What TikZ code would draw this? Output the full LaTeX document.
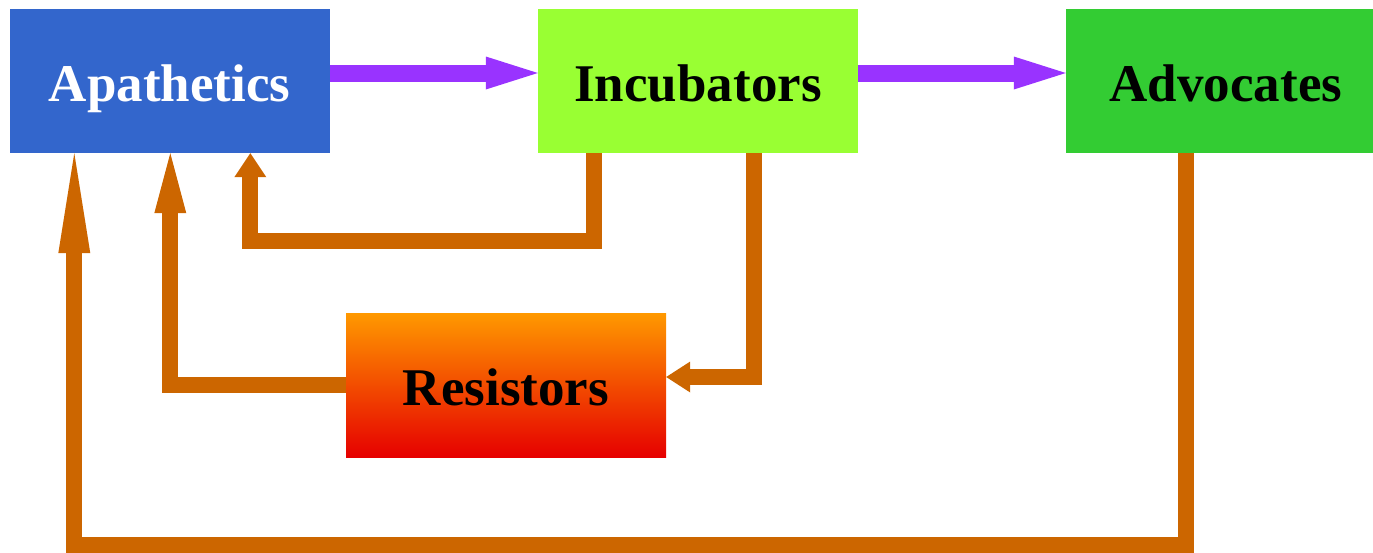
\documentclass[tikz,border=0pt]{standalone}
\usepackage{fontspec}
\setmainfont{Liberation Serif}
\usetikzlibrary{arrows.meta}

\definecolor{apblue}{HTML}{3366CC}
\definecolor{inclime}{HTML}{99FF33}
\definecolor{advgreen}{HTML}{33CC33}
\definecolor{resorange}{HTML}{FF9900}
\definecolor{resred}{HTML}{E60000}
\definecolor{flowpurple}{HTML}{9933FF}
\definecolor{backbrown}{HTML}{CC6600}

\tikzset{
  stage/.style={rectangle, minimum width=320pt, minimum height=144pt, inner sep=0pt,
    text height=40pt, text depth=0pt, font=\fontsize{53}{60}\selectfont\bfseries},
  forward/.style={draw=flowpurple, line width=17pt,
    -{Triangle[length=52pt, width=33pt, line width=0pt]}},
  back/.style={draw=backbrown, line width=16pt, line join=miter},
}

\begin{document}
\begin{tikzpicture}[x=1pt, y=-1pt]
  \clip (0,0) rectangle (1373,552);
  \node[stage, fill=apblue, text=white] (apathetics) at (169.5,81) {Apathetics};
  \node[stage, fill=inclime] (incubators) at (698,81) {Incubators};
  \node[stage, fill=advgreen] (advocates) at (1226,81) {Advocates};
  \node[stage, top color=resorange, bottom color=resred] (resistors) at (506,385) {Resistors};

  \draw[forward] ([yshift=8pt]apathetics.east) -- ([yshift=8pt]incubators.west);
  \draw[forward] ([yshift=8pt]incubators.east) -- ([yshift=8pt]advocates.west);

  \draw[back, -{Triangle[length=24pt, width=32pt, line width=0pt]}] ([xshift=56pt]incubators.south west)
    -- ++(0,88) -| ([xshift=241pt]apathetics.south west);
  \draw[back, -{Triangle[length=24pt, width=31pt, line width=0pt]}] ([xshift=216pt]incubators.south west)
    |- ([yshift=8pt]resistors.east);
  \draw[back, -{Triangle[length=60pt, width=32pt, line width=0pt]}] (resistors.west)
    -| ([xshift=161pt]apathetics.south west);
  \draw[back, -{Triangle[length=100pt, width=32pt, line width=0pt]}] ([xshift=-40pt]advocates.south)
    -- ++(0,392) -| ([xshift=65pt]apathetics.south west);
\end{tikzpicture}
\end{document}
